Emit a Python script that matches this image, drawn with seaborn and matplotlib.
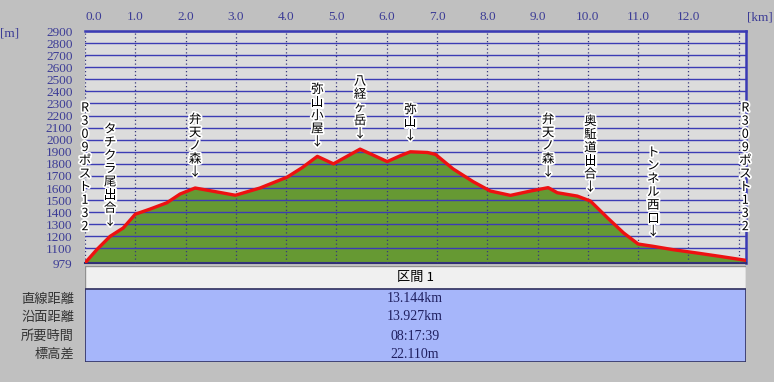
import matplotlib
matplotlib.use("Agg")
import matplotlib.pyplot as plt
import matplotlib.patheffects as pe
from matplotlib.patches import Rectangle
import pandas as pd
import seaborn as sns

# profile: distance [km], elevation [m]
km = [0.00, 0.24, 0.50, 0.76, 1.00, 1.29, 1.63, 1.89, 2.19, 2.59, 2.99, 3.48,
      4.02, 4.32, 4.62, 4.94, 5.47, 6.01, 6.27, 6.47, 6.81, 6.97, 7.32, 7.72,
      8.06, 8.46, 8.86, 9.21, 9.39, 9.79, 10.05, 10.39, 10.71, 11.00, 11.30,
      11.70, 12.18, 12.64, 13.144]
elev = [979, 1092, 1200, 1269, 1383, 1425, 1478, 1550, 1600, 1570, 1540, 1600,
        1690, 1769, 1862, 1800, 1922, 1819, 1867, 1900, 1894, 1878, 1758, 1652,
        1575, 1539, 1575, 1603, 1561, 1533, 1492, 1353, 1228, 1136, 1117,
        1089, 1061, 1033, 1001]

y_ticks = [979, 1100, 1200, 1300, 1400, 1500, 1600, 1700, 1800, 1900, 2000,
           2100, 2200, 2300, 2400, 2500, 2600, 2700, 2800, 2900]
x_ticks = [0, 1, 2, 3, 4, 5, 6, 7, 8, 9, 10, 11, 12, 13]
x_labels = ["0.0", "1.0", "2.0", "3.0", "4.0", "5.0", "6.0", "7.0", "8.0",
            "9.0", "10.0", "11.0", "12.0", ""]

# waypoint names, their distance and the elevation of the arrow tip
point_names = ["R309ポスト132", "タチクラ尾出合↓", "弁天ノ森↓", "弥山小屋↓", "八経ヶ岳↓",
               "弥山↓", "弁天ノ森↓", "奥駈道出合↓", "トンネル西口↓", "R309ポスト132"]
point_km = [0.0, 0.50, 2.19, 4.62, 5.47, 6.47, 9.21, 10.05, 11.30, 13.13]
point_tip = [1225, 1267, 1675, 1925, 1992, 1975, 1675, 1550, 1183, 1225]

section = "区間 1"
row_names = ["直線距離", "沿面距離", "所要時間", "標高差"]
row_values = ["13.144km", "13.927km", "08:17:39", "22.110m"]

sns.set_style("white")
plt.rcParams['font.family'] = ['Noto Sans CJK JP', 'DejaVu Sans']

W, H = 774, 382
fig = plt.figure(figsize=(W / 100, H / 100), dpi=100, facecolor='#c0c0c0')
ax = fig.add_axes([85 / W, 1 - 263 / H, 661 / W, 232 / H])
ax.set_facecolor('#dcdcdc')

df = pd.DataFrame({'km': km, 'elev': elev})
ax.fill_between(df.km, df.elev, 900, color='#669933', lw=0, zorder=1)
sns.lineplot(data=df, x='km', y='elev', ax=ax, color='#ee1111', lw=2.4, zorder=4)
ax.set_xlabel('')
ax.set_ylabel('')
ax.set_xlim(0, 13.144)
ax.set_ylim(979, 2900)

tick_col = '#3c3c96'
ax.set_yticks(y_ticks)
ax.set_yticklabels([str(v) for v in y_ticks], fontfamily='Liberation Serif',
                   fontsize=9.5, color=tick_col)
ax.tick_params(axis='y', length=0, pad=9)
ax.xaxis.tick_top()
ax.set_xticks(x_ticks)
ax.set_xticklabels(x_labels, fontfamily='Liberation Serif', fontsize=9.5, color=tick_col)
ax.tick_params(axis='x', length=0, pad=6)
ax.get_xticklabels()[0].set_ha('left')

ax.set_axisbelow(False)
ax.yaxis.grid(True, color='#3c3cb4', lw=1)
ax.xaxis.grid(True, color='#38387c', ls=(0, (1, 2)), lw=0.9)
for s in ['top', 'right']:
    ax.spines[s].set_color('#3a3ab4')
    ax.spines[s].set_linewidth(1.8)
ax.spines['left'].set_visible(False)
ax.spines['bottom'].set_color('#303070')
ax.spines['bottom'].set_linewidth(1.5)

halo = [pe.withStroke(linewidth=2.5, foreground='white')]
pitch = 9.5  # points between stacked characters
for name, x, tip in zip(point_names, point_km, point_tip):
    n = len(name)
    for i, ch in enumerate(name):
        ax.annotate(ch, xy=(x, tip), xytext=(0, (n - 1 - i) * pitch + pitch / 2),
                    textcoords='offset points', ha='center', va='center',
                    fontsize=9, color='black', path_effects=halo,
                    annotation_clip=False, zorder=6)

fig.text(760 / W, 1 - 17 / H, "[km]", ha='center', va='center',
         fontfamily='Liberation Serif', fontsize=9.5, color=tick_col)
fig.text(10 / W, 1 - 33 / H, "[m]", ha='center', va='center',
         fontfamily='Liberation Serif', fontsize=9.5, color=tick_col)

# summary table below the profile
tb = fig.add_axes([85 / W, 1 - 362 / H, 661 / W, 96 / H])
tb.set_xlim(85, 746)
tb.set_ylim(362, 266)
tb.axis('off')
tb.add_patch(Rectangle((85, 266), 661, 23, facecolor='#f0f0f0', edgecolor='#909090', lw=1))
tb.add_patch(Rectangle((85, 289), 661, 73, facecolor='#a6b6fa', edgecolor='#303060', lw=1.2))
tb.text(415, 277.5, section, ha='center', va='center', fontsize=9.5, color='black')
row_y = [299, 317, 336, 354]
for name, val, y in zip(row_names, row_values, row_y):
    tb.text(415, y, val, ha='center', va='center', fontfamily='Liberation Serif',
            fontsize=10, color='#202060')
    fig.text(74 / W, 1 - y / H, name, ha='right', va='center', fontsize=9.5, color='#333333')

fig.savefig('out.png', dpi=100, facecolor=fig.get_facecolor())
